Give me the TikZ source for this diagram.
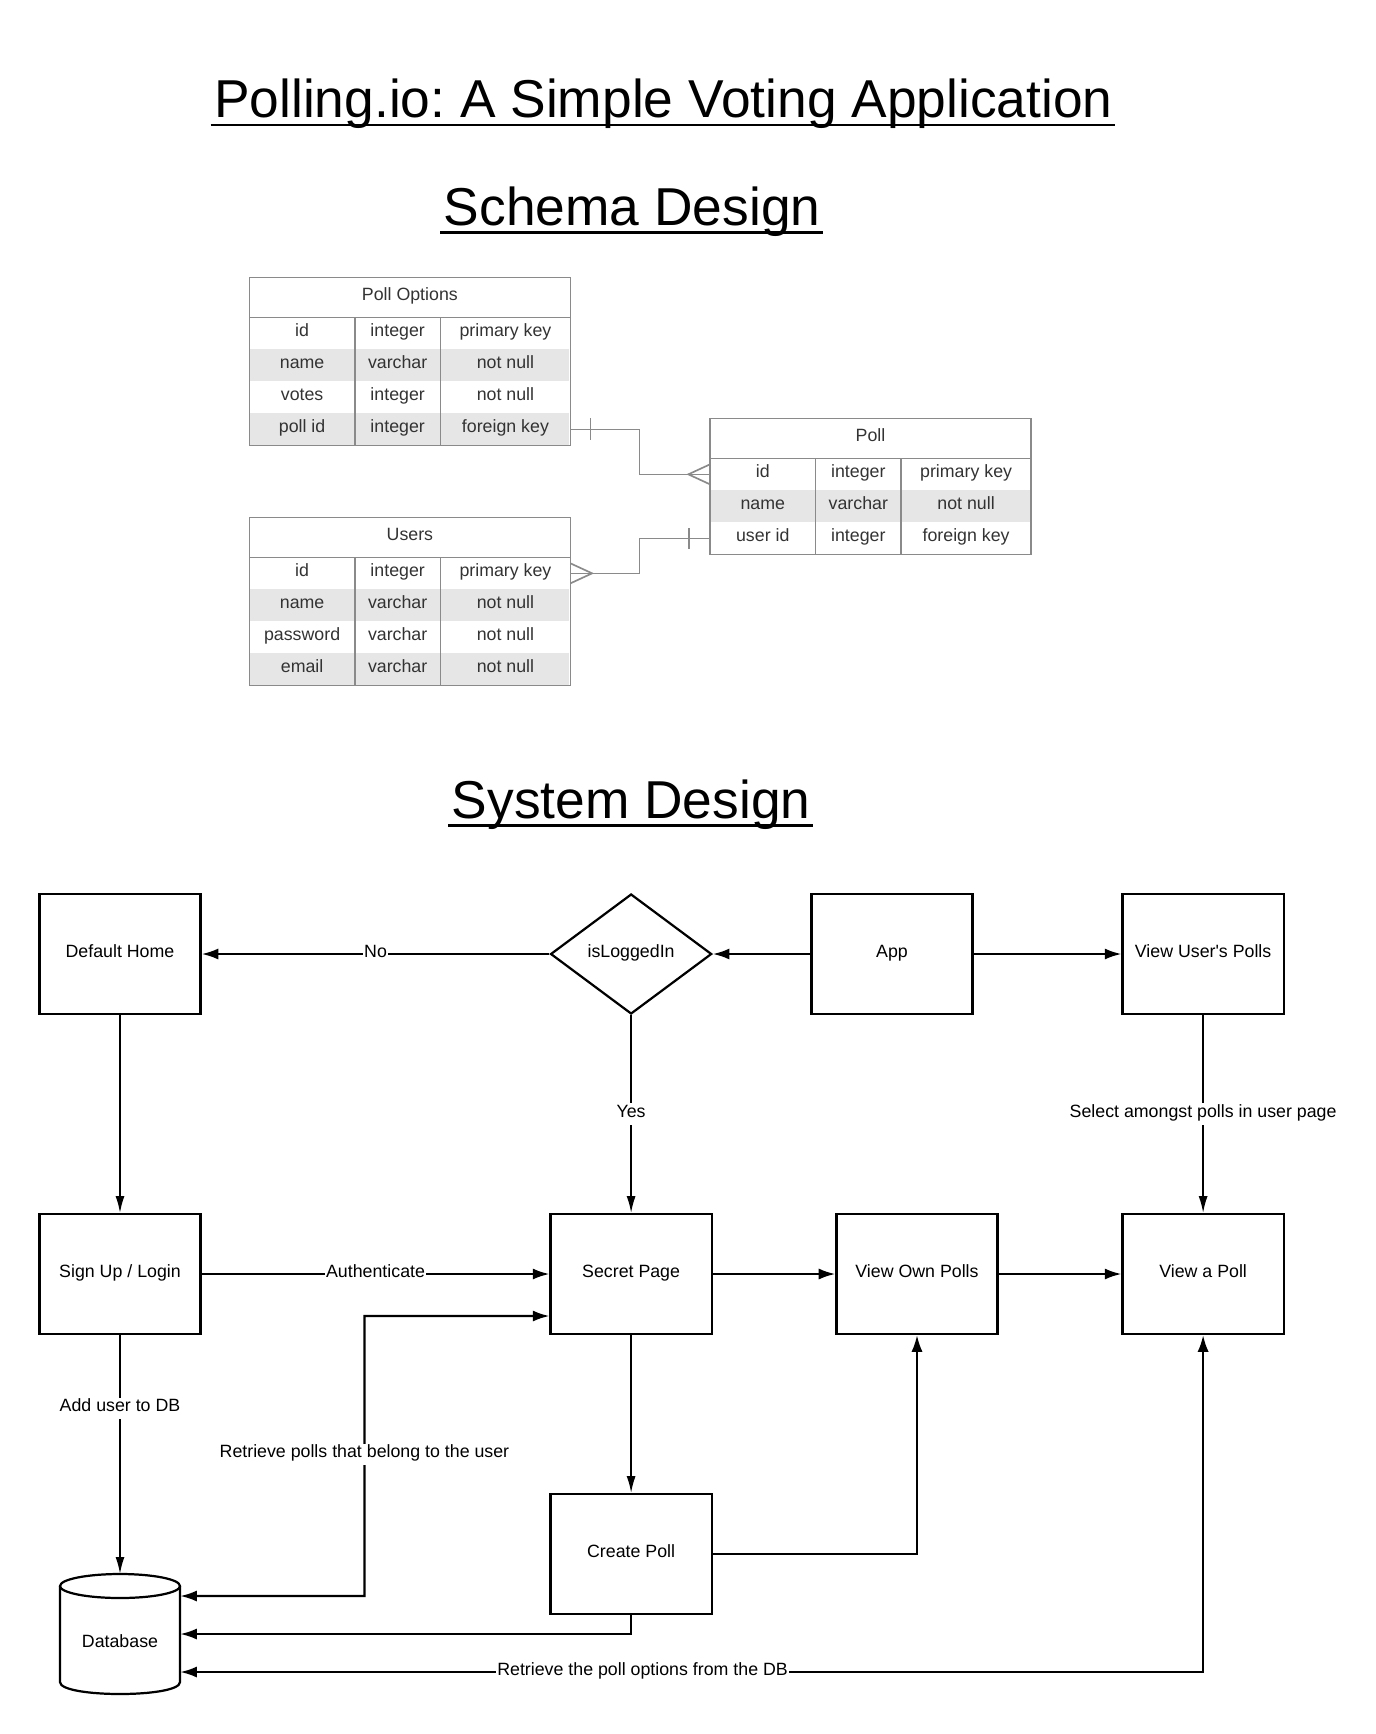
\documentclass[tikz,border=0pt]{standalone}
\usepackage{fontspec}
\setmainfont{Liberation Sans}
\usetikzlibrary{arrows.meta,shapes.geometric}
\definecolor{erline}{HTML}{8A8A8A}
\definecolor{ershade}{HTML}{E6E6E6}
\definecolor{ertext}{HTML}{333333}
\frenchspacing

% #1 name, #2 left x, #3 top y, #4 title, #5 rows
\newcommand\ertab[5]{%
  \foreach \a/\b/\c [count=\i] in {#5} {
    \pgfmathsetmacro\ry{#3+36+(\i-1)*28.8}
    \ifodd\i\else \fill[ershade] (#2+1,\ry) rectangle ++(287,28.8);\fi
    \node[ercell] (#1-\i-1) at (#2+47.5,\ry+14.4) {\a};
    \node[ercell] (#1-\i-2) at (#2+133.5,\ry+14.4) {\b};
    \node[ercell] (#1-\i-3) at (#2+230.5,\ry+14.4) {\c};
    \coordinate (#1-\i-L) at (#2,\ry+14.4);
    \coordinate (#1-\i-R) at (#2+289,\ry+14.4);
    \xdef\nrows{\i}
  }
  \pgfmathsetmacro\bot{#3+36+\nrows*28.8}
  \node[ercell] (#1-h) at (#2+144.5,#3+18) {#4};
  \draw[erborder] (#2,#3) rectangle (#2+289,\bot);
  \draw[erborder] (#2,#3+36) -- (#2+289,#3+36);
  \draw[erborder] (#2+95,#3+36) -- (#2+95,\bot);
  \draw[erborder] (#2+172,#3+36) -- (#2+172,\bot);
}

\begin{document}
\begin{tikzpicture}[x=1pt,y=-1pt,
  txt/.style={font=\fontsize{16}{19}\selectfont,text height=11.5pt,text depth=5.5pt},
  ercell/.style={txt,inner sep=0pt,text=ertext},
  erborder/.style={draw=erline,line width=1.5pt},
  erconn/.style={draw=erline,line width=1.5pt},
  bigtitle/.style={inner sep=0pt,font=\fontsize{48}{56}\selectfont,anchor=base},
  uline/.style={line width=2.5pt},
  box/.style={draw,line width=2pt,minimum width=145pt,minimum height=108pt,inner sep=0pt,txt},
  dia/.style={draw,diamond,line width=2pt,minimum width=145pt,minimum height=108pt,inner sep=0pt,txt},
  lbl/.style={fill=white,inner sep=1pt,txt},
  thickarr/.style={line width=2pt,-{Latex[length=15pt,width=10pt]}},
  thickboth/.style={line width=2pt,{Latex[length=15pt,width=10pt]}-{Latex[length=15pt,width=10pt]}},
  thinarr/.style={line width=1.4pt,-{Latex[length=15pt,width=8pt]}}
]
\useasboundingbox (0,0) rectangle (1237.5,1560.6);

% titles
\node[bigtitle] (t1) at (597,106) {Polling.io: A Simple Voting Application};
\draw[uline] ([yshift=-6.5pt,xshift=-3pt]t1.base west) -- ([yshift=-6.5pt,xshift=2pt]t1.base east);
\node[bigtitle] (t2) at (569,203) {Schema Design};
\draw[uline] ([yshift=-6.5pt,xshift=-3pt]t2.base west) -- ([yshift=-6.5pt,xshift=2pt]t2.base east);
\node[bigtitle] (t3) at (568,736.5) {System Design};
\draw[uline] ([yshift=-6.5pt,xshift=-3pt]t3.base west) -- ([yshift=-6.5pt,xshift=2pt]t3.base east);

% schema tables
\ertab{po}{224.4}{249.6}{Poll Options}{id/integer/primary key,name/varchar/not null,votes/integer/not null,poll id/integer/foreign key}
\ertab{poll}{639}{376.5}{Poll}{id/integer/primary key,name/varchar/not null,user id/integer/foreign key}
\ertab{us}{224.4}{465.6}{Users}{id/integer/primary key,name/varchar/not null,password/varchar/not null,email/varchar/not null}

% ER connectors
\draw[erconn] (po-4-R) -- ++(62,0) |- (poll-1-L);
\draw[erconn] ([xshift=18pt,yshift=10pt]po-4-R) -- ([xshift=18pt,yshift=-10pt]po-4-R);
\draw[erconn] ([yshift=9pt]poll-1-L) -- ([xshift=-19.5pt]poll-1-L) -- ([yshift=-9pt]poll-1-L);
\draw[erconn] (poll-3-L) -- ++(-63.5,0) |- (us-1-R);
\draw[erconn] ([xshift=-19pt,yshift=9.5pt]poll-3-L) -- ([xshift=-19pt,yshift=-9.5pt]poll-3-L);
\draw[erconn] ([yshift=9pt]us-1-R) -- ([xshift=19.5pt]us-1-R) -- ([yshift=-9pt]us-1-R);

% system design nodes
\node[box] (home) at (108,858.6) {Default Home};
\node[dia] (logged) at (568,858.6) {isLoggedIn};
\node[box] (app) at (802.8,858.6) {App};
\node[box] (vup) at (1082.8,858.6) {View User\textquotesingle s Polls};
\node[box] (sign) at (108,1146.6) {Sign Up / Login};
\node[box] (secret) at (568,1146.6) {Secret Page};
\node[box] (vop) at (825.3,1146.6) {View Own Polls};
\node[box] (vap) at (1082.8,1146.6) {View a Poll};
\node[box] (create) at (568,1398.6) {Create Poll};
\node[minimum width=108pt,minimum height=108pt,inner sep=0pt,txt] (db) at (108,1470.6) {\raisebox{-9pt}{Database}};
\draw[line width=2pt] (108,1427.4) ellipse [x radius=54, y radius=10.8];
\draw[line width=2pt] (54,1427.4) -- (54,1513.8) .. controls (54,1528.2) and (162,1528.2) .. (162,1513.8) -- (162,1427.4);

% connectors
\draw[thickarr] (logged) -- node[lbl]{No} (home);
\draw[thickarr] (app) -- (logged);
\draw[thickarr] (app) -- (vup);
\draw[thinarr] (home) -- (sign);
\draw[thinarr] (logged) -- node[lbl]{Yes} (secret);
\draw[thinarr] (vup) -- node[lbl]{Select amongst polls in user page} (vap);
\draw[thickarr] (sign) -- node[lbl]{Authenticate} (secret);
\draw[thickarr] (secret) -- (vop);
\draw[thickarr] (vop) -- (vap);
\draw[thinarr] (sign) -- node[lbl,pos=0.306]{Add user to DB} (db);
\coordinate (rpA) at (328,1436.4);
\coordinate (rpB) at (328,1184.4);
\draw[thickboth] ([yshift=34.2pt]db.east) -- (rpA) -- node[lbl,pos=0.507]{Retrieve polls that belong to the user} (rpB) -- (rpB -| secret.west);
\draw[thinarr] (secret) -- (create);
\draw[thickarr] (create.south) |- (db.east);
\draw[thickarr] (create.east) -| (vop.south);
\draw[thickboth] (vap.south) |- node[lbl,pos=0.774]{Retrieve the poll options from the DB} ([yshift=-34.2pt]db.east);
\end{tikzpicture}
\end{document}
